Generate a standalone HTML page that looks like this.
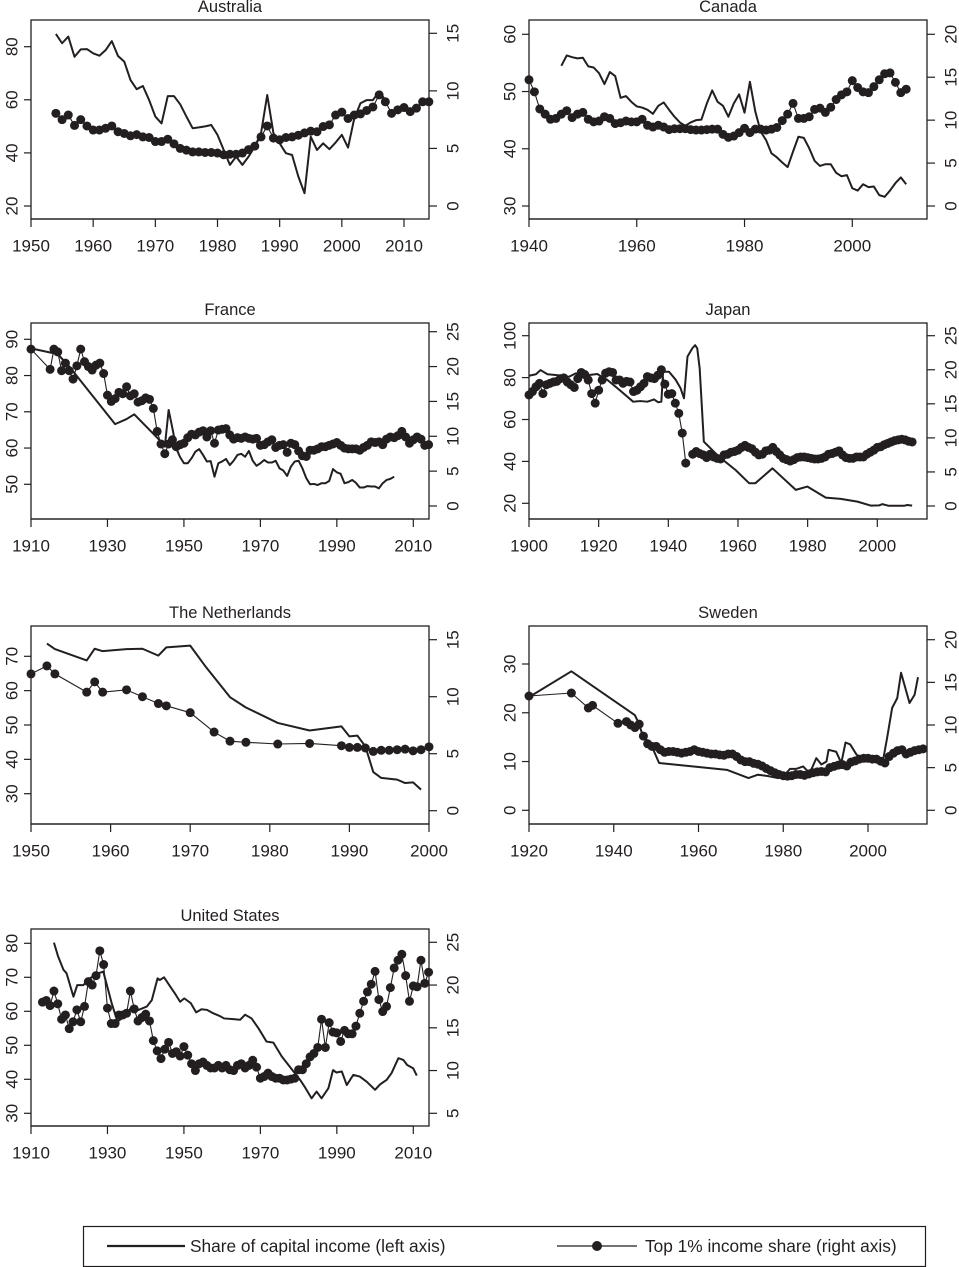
<!DOCTYPE html>
<html><head><meta charset="utf-8"><style>
html,body{margin:0;padding:0;background:#fff}
svg{display:block}
text{font-family:"Liberation Sans",sans-serif;fill:#231f20}
</style></head><body>
<svg id="fig" xmlns="http://www.w3.org/2000/svg" width="959" height="1267" viewBox="0 0 959 1267">
<g id="panels"></g>
<g>
<rect x="83.5" y="1226.5" width="842" height="40" fill="#fff" stroke="#231f20" stroke-width="1.2"/>
<line x1="107" y1="1246" x2="185" y2="1246" stroke="#231f20" stroke-width="2.2"/>
<text x="190" y="1252" font-size="17.3">Share of capital income (left axis)</text>
<line x1="557" y1="1246" x2="637" y2="1246" stroke="#231f20" stroke-width="1.2"/>
<circle cx="597" cy="1246" r="5" fill="#231f20"/>
<text x="645" y="1252" font-size="17.3">Top 1% income share (right axis)</text>
</g>
</svg>
<script>
function yrs(a,b){var r=[];for(var y=a;y<=b;y++)r.push(y);return r;}

// ---- Australia ----
const ausCapYears = yrs(1954,2007);
const ausCapValues = [84.8,81.3,83.8,76.2,79,79.1,77.5,76.6,78.7,82.1,76.5,74.4,67.5,64,65.2,59.9,53.7,51.1,61.4,61.4,58.3,53.7,49.3,49.6,50,50.5,46.8,41.1,35.5,38.6,35.5,38.6,42.4,47.4,61.8,47.4,43.6,39.9,39.2,31.1,24.8,46.1,41.1,43.6,41.4,43.9,46.8,42,53,58.7,59.9,59.9,63.1,59.9];
const ausTopYears = yrs(1954,2014);
const ausTopValues = [8.05,7.5,7.9,7.0,7.5,6.95,6.6,6.6,6.75,6.95,6.45,6.3,6.1,6.2,6.0,5.95,5.6,5.6,5.8,5.4,5.0,4.85,4.7,4.7,4.65,4.65,4.6,4.45,4.5,4.5,4.6,4.9,5.2,6.0,6.95,5.9,5.75,5.95,6.0,6.15,6.35,6.5,6.45,6.9,7.05,7.9,8.15,7.6,7.9,8.0,8.3,8.6,9.65,9.05,8.05,8.35,8.55,8.2,8.5,9.05,9.05];
const ausXTicks = [1950,1960,1970,1980,1990,2000,2010];
const ausLeftTicks = [20,40,60,80];
const ausRightTicks = [0,5,10,15];

// ---- Canada ----
const canCapYears = yrs(1946,2010);
const canCapValues = [54.5,56.3,56.0,55.8,55.9,54.4,54.2,53.2,51.3,53.4,52.7,48.9,49.2,48.2,47.4,47.2,46.8,46.1,47.5,48.1,46.8,45.6,44.6,44.0,44.6,45.0,45.1,47.9,50.2,48.2,47.5,45.6,47.9,49.5,46.3,51.7,46.5,43.0,41.5,39.2,38.5,37.6,36.8,39.5,42.1,41.9,40.1,37.9,37.0,37.3,37.3,35.8,35.2,35.4,33.1,32.7,33.8,33.3,33.4,31.9,31.6,32.7,34.0,35.0,33.8];
const canTopYears = yrs(1940,2010);
const canTopValues = [14.7,13.3,11.3,10.7,10.1,10.2,10.7,11.1,10.3,10.7,10.9,10.1,9.8,9.9,10.4,10.2,9.6,9.7,9.9,9.8,9.8,10.1,9.4,9.2,9.4,9.2,8.9,9.0,9.0,9.0,8.9,8.85,8.85,8.9,8.95,8.95,8.35,8.0,8.15,8.55,9.05,8.55,8.95,8.95,8.85,8.95,9.15,9.95,10.7,11.95,10.2,10.2,10.4,11.25,11.4,10.9,11.5,12.4,12.95,13.3,14.6,13.8,13.3,13.2,13.9,14.7,15.4,15.5,14.4,13.2,13.6];
const canXTicks = [1940,1960,1980,2000];
const canLeftTicks = [30,40,50,60];
const canRightTicks = [0,5,10,15,20];

// ---- France ----
const fraCapYears = [1910,1917,1920,1932,1935,1937,1944,1945,1946,1947,1948,1949].concat(yrs(1950,2005));
const fraCapValues = [87.5,85.9,82.5,66.6,68.0,69.3,61.8,60.4,70.5,65.4,59.9,57.5,55.8,55.8,57.2,59.0,59.7,58.1,56.3,56.4,52.1,55.8,56.3,57.0,55.3,56.5,58.1,58.4,57.6,59.2,56.5,55.1,55.8,56.7,56.0,56.0,56.5,54.4,53.8,52.3,54.9,56.3,56.5,54.4,51.7,50.0,50.1,49.8,50.3,50.3,50.9,54.2,53.3,52.9,50.3,50.6,51.2,50.4,49.1,49.1,49.5,49.4,49.4,48.9,50.3,51.2,51.5,52.1];
const fraTopYears = [1910].concat(yrs(1915,2014));
const fraTopValues = [22.5,19.6,22.5,22.1,19.4,20.5,19.4,18.2,20.1,22.5,20.7,20.0,19.5,20.2,20.5,19.0,15.9,15.0,15.4,16.3,16.1,17.1,15.8,16.1,14.9,15.1,15.5,15.3,14.0,10.7,8.9,7.5,8.9,9.5,8.5,8.8,9.0,9.8,10.3,10.2,10.6,10.8,9.9,10.8,9.0,10.9,11.0,11.1,10.2,9.6,9.8,9.7,9.9,9.7,9.6,9.7,8.7,8.8,9.2,9.5,8.4,8.7,8.8,7.7,9.0,8.8,7.9,7.2,7.1,8.0,8.0,8.2,8.5,8.5,8.7,8.9,9.1,8.7,8.3,8.2,8.2,8.2,8.0,8.4,8.7,9.2,9.1,9.2,8.8,9.6,9.9,9.8,10.1,10.7,9.9,9.0,9.5,9.9,9.6,8.7,8.8];
const fraXTicks = [1910,1930,1950,1970,1990,2010];
const fraLeftTicks = [50,60,70,80,90];
const fraRightTicks = [0,5,10,15,20,25];

// ---- Japan ----
const jpnCapYears = [1900,1902,1903.3,1905.3,1908,1911.5,1913.4,1917,1919.6,1922.5,1925.4,1929.9,1932,1934,1935.9,1937.1,1938,1938.5,1940.2,1942.1,1943.5,1944.5,1945.5,1946.9,1947.7,1948.3,1949,1950.2,1954.5,1959.3,1963.2,1965,1969.9,1976.6,1979.9,1985.2,1989.5,1994.3,1998.1,2000.5,2001.4,2003.3,2007.7,2008.6,2010];
const jpnCapValues = [80.9,81.6,83.6,81.6,81.2,80.4,82,81.2,81.7,78.9,74.9,68.5,68.8,68.5,69.6,68.2,68.5,82.8,82.8,79,75,70.1,90,94,95.5,94,84.4,49.4,42.3,35.9,29.6,29.6,36.7,26.4,28,22.7,22.1,20.8,18.9,19.0,19.6,18.8,18.8,19.2,18.9];
const jpnTopYears = yrs(1900,2010);
const jpnTopValues = [16.3,16.8,17.5,18.0,16.5,17.8,18.0,18.2,18.3,18.7,18.8,18.2,17.8,17.4,18.7,19.6,19.3,18.5,16.5,15.1,17.0,18.5,19.5,19.7,19.6,18.5,18.5,18.0,18.3,18.2,16.8,17.0,17.5,18.0,19.0,18.8,18.7,19.2,20.0,17.9,16.4,16.5,15.1,13.6,10.7,6.3,null,7.6,8.0,7.7,7.5,7.1,7.6,7.2,7.0,6.9,7.5,7.6,7.9,8.0,8.2,8.6,8.9,8.6,8.4,7.9,7.5,7.6,8.1,8.2,8.6,8.0,7.5,7.0,6.8,6.6,6.8,7.1,7.2,7.2,7.1,7.0,6.9,6.9,7.0,7.2,7.6,7.7,7.9,8.1,7.5,7.1,7.0,7.0,7.2,7.2,7.2,7.6,7.9,8.2,8.6,8.7,9.0,9.2,9.4,9.6,9.7,9.8,9.7,9.5,9.4];
const jpnXTicks = [1900,1920,1940,1960,1980,2000];
const jpnLeftTicks = [20,40,60,80,100];
const jpnRightTicks = [0,5,10,15,20,25];

// ---- Netherlands ----
const nldCapYears = [1952,1953,1957,1958,1959,1962,1964,1966,1967,1970,1972,1975,1977,1981,1985,1989,1990,1991,1992,1993,1994,1996,1997,1998,1999];
const nldCapValues = [73.7,72.1,68.8,72.2,71.5,72.1,72.2,70.2,72.6,73.1,66.8,58.1,55.1,50.6,48.4,49.6,46.7,46.9,43.8,36.3,34.6,34.1,33.1,33.3,31.2];
const nldTopYears = [1950,1952,1953,1957,1958,1959,1962,1964,1966,1967,1970,1973,1975,1977,1981,1985,1989].concat(yrs(1990,2000));
const nldTopValues = [12.0,12.7,12.0,10.4,11.3,10.4,10.6,10.0,9.4,9.2,8.6,6.9,6.1,6.0,5.85,5.9,5.7,5.55,5.55,5.5,5.2,5.3,5.3,5.35,5.4,5.25,5.35,5.6];
const nldXTicks = [1950,1960,1970,1980,1990,2000];
const nldLeftTicks = [30,40,50,60,70];
const nldRightTicks = [0,5,10,15];

// ---- Sweden ----
const sweCapYears = [1920,1930,1945,1945.7,1946.8,1949,1950.7,1966.7,1971.8,1974,1976.5,1978.8,1980.4,1981.6,1983.1,1984.7,1985.9,1986.7,1987.8,1989,1990.2,1990.7,1992.5,1993.7,1994.7,1995.8,1997.3,1999.2,2003.5,2004.5,2005.7,2006.9,2007.8,2009.8,2011,2011.8];
const sweCapValues = [23.2,28.5,19.5,18.2,15.5,13.1,9.7,8.3,6.6,7.3,7.0,6.6,7.3,8.5,8.5,9.0,7.9,8.5,10.7,9.4,10.0,12.4,12.0,9.7,13.9,13.5,11.4,10.4,10.0,14.8,21.0,23.0,28.2,22.0,23.7,27.3];
const sweTopYears = [1920,1930,1934,1935,1941].concat(yrs(1943,2013));
const sweTopValues = [13.4,13.75,12.0,12.3,10.2,10.4,10.0,9.7,10.1,8.7,7.8,7.5,7.5,7.1,6.8,6.9,6.9,6.8,6.7,6.8,6.9,7.1,6.9,6.8,6.7,6.6,6.6,6.5,6.45,6.6,6.6,6.3,5.9,5.7,5.7,5.5,5.4,5.2,4.9,4.65,4.4,4.2,4.05,4.0,4.05,4.2,4.2,4.1,4.25,4.4,4.5,4.55,4.5,5.0,5.15,5.3,5.35,5.2,5.65,5.8,6.0,6.1,6.1,6.0,6.0,5.75,5.55,6.3,6.7,7.0,7.1,6.6,6.8,7.0,7.1,7.2];
const sweXTicks = [1920,1940,1960,1980,2000];
const sweLeftTicks = [0,10,20,30];
const sweRightTicks = [0,5,10,15,20];

// ---- United States ----
const usaCapYears = [1916,1917.1,1918.5,1919.3,1921.1,1922.1,1923.7,1925.4,1927.2,1928.9,1931.1,1932.6,1935,1936.3,1938.1,1940.3,1941.6,1943.1,1943.7,1944.8,1946.4,1947.9,1949,1950.1,1951.8,1953.2,1954.6,1956.1,1957.7,1959.4,1960.5,1962.9,1964.7,1966,1967.7,1969.5,1971.6,1973.4,1975.6,1977.7,1980.4,1981.7,1983.4,1984.7,1986,1987.8,1989,1989.9,1991.3,1992.6,1994.3,1996,1997.8,2000,2001.3,2003,2004.3,2006.1,2007.4,2008.4,2010,2010.9];
const usaCapValues = [80.2,76.1,72.2,71.2,64.3,67.7,67.7,69.7,71.0,71.7,62.4,57.0,58.9,61.4,60.4,61.4,63.3,69.7,69.2,70,67.3,64.8,62.8,63.8,62.4,59.7,60.6,60.4,59.4,58.6,57.9,57.7,57.5,59.0,57.9,55.0,51.1,50.8,46.7,43.7,39.8,37.6,34.4,36.4,34.4,37.4,42.7,42.0,42.3,38.3,41.3,40.8,39.3,36.9,38.5,39.8,41.8,46.2,45.7,44.2,43.2,41.1];
const usaTopYears = yrs(1913,2014);
const usaTopValues = [18.0,18.2,17.6,19.3,17.8,16.0,16.5,14.9,15.7,17.1,15.7,17.5,20.4,20.0,21.1,24.0,22.4,17.3,15.5,15.5,16.5,16.5,16.7,19.3,17.2,15.8,16.2,16.6,15.8,13.5,12.3,11.4,12.5,13.3,12.0,12.2,11.7,12.8,11.8,10.8,10.0,10.8,11.0,10.6,10.3,10.3,10.6,10.3,10.6,10.1,10.0,10.6,10.8,10.3,10.6,11.2,10.4,9.1,9.3,9.7,9.3,9.1,9.1,8.9,8.9,9.0,9.1,10.1,10.1,10.8,11.6,12.0,12.7,16.0,12.7,15.6,14.5,14.4,13.4,14.7,14.3,14.3,15.2,16.7,18.1,19.2,20.1,21.6,18.3,16.9,17.5,19.7,22.0,22.9,23.6,21.1,18.1,19.9,19.8,22.9,20.2,21.5];
const usaXTicks = [1910,1930,1950,1970,1990,2010];
const usaLeftTicks = [30,40,50,60,70,80];
const usaRightTicks = [5,10,15,20,25];

var NS='http://www.w3.org/2000/svg';
var INK='#231f20';
function mk(tag,attrs,parent){var e=document.createElementNS(NS,tag);for(var k in attrs)e.setAttribute(k,attrs[k]);parent.appendChild(e);return e;}
function lin(a,pa,b,pb){return function(v){return pa+(v-a)*(pb-pa)/(b-a);};}

var panels=[
 {key:'australia',title:'Australia',box:[31,20,429,219],xs:lin(1950,31,2010,404),ls:lin(80,46.7,20,206),rs:lin(15,33.3,0,206),
  cy:ausCapYears,cv:ausCapValues,ty:ausTopYears,tv:ausTopValues,xt:ausXTicks,lt:ausLeftTicks,rt:ausRightTicks},
 {key:'canada',title:'Canada',box:[529,20,927,219],xs:lin(1940,529,2000,852.3),ls:lin(60,34.3,30,206),rs:lin(20,34.3,0,206),
  cy:canCapYears,cv:canCapValues,ty:canTopYears,tv:canTopValues,xt:canXTicks,lt:canLeftTicks,rt:canRightTicks},
 {key:'france',title:'France',box:[31,323,429,519],xs:lin(1910,31,2010,413.3),ls:lin(90,339.3,50,484.3),rs:lin(25,331.7,0,506),
  cy:fraCapYears,cv:fraCapValues,ty:fraTopYears,tv:fraTopValues,xt:fraXTicks,lt:fraLeftTicks,rt:fraRightTicks},
 {key:'japan',title:'Japan',box:[529,323,927,519],xs:lin(1900,529,2000,877.3),ls:lin(100,335.7,20,503.3),rs:lin(25,335.7,0,506),
  cy:jpnCapYears,cv:jpnCapValues,ty:jpnTopYears,tv:jpnTopValues,xt:jpnXTicks,lt:jpnLeftTicks,rt:jpnRightTicks},
 {key:'netherlands',title:'The Netherlands',box:[31,626,429,824],xs:lin(1950,31,2000,429),ls:lin(70,656.3,30,793.7),rs:lin(15,639.7,0,810.7),
  cy:nldCapYears,cv:nldCapValues,ty:nldTopYears,tv:nldTopValues,xt:nldXTicks,lt:nldLeftTicks,rt:nldRightTicks},
 {key:'sweden',title:'Sweden',box:[529,626,927,824],xs:lin(1920,529,2000,868),ls:lin(30,664,0,810.3),rs:lin(20,639.7,0,810.3),
  cy:sweCapYears,cv:sweCapValues,ty:sweTopYears,tv:sweTopValues,xt:sweXTicks,lt:sweLeftTicks,rt:sweRightTicks},
 {key:'united-states',title:'United States',box:[31,929,429,1126],xs:lin(1910,31,2010,413.3),ls:lin(80,943.3,30,1113.3),rs:lin(25,942.3,5,1113.3),
  cy:usaCapYears,cv:usaCapValues,ty:usaTopYears,tv:usaTopValues,xt:usaXTicks,lt:usaLeftTicks,rt:usaRightTicks}
];

var root=document.getElementById('panels');
panels.forEach(function(p){
  var g=mk('g',{},root);
  
  
  var L=p.box[0],T=p.box[1],R=p.box[2],B=p.box[3];
  var t=mk('text',{x:(L+R)/2,y:T-13,'font-size':16.5,'text-anchor':'middle','dominant-baseline':'central'},g);
  t.textContent=p.title;
  
  
  var bx=mk('rect',{x:L,y:T,width:R-L,height:B-T,fill:'none',stroke:INK,'stroke-width':1.3},g);
  
  
  var xa=mk('g',{},g);
  
  
  p.xt.forEach(function(v){
    var x=p.xs(v);
    mk('line',{x1:x,y1:B,x2:x,y2:B+8,stroke:INK,'stroke-width':1.2},xa);
    var tl=mk('text',{x:x,y:B+27,'font-size':17,'text-anchor':'middle','dominant-baseline':'central'},xa);
    tl.textContent=v;
    
    
  });
  mk('line',{x1:p.xs(p.xt[0]),y1:B,x2:p.xs(p.xt[p.xt.length-1]),y2:B,stroke:INK,'stroke-width':1.2},xa);
  var la=mk('g',{},g);
  
  
  p.lt.forEach(function(v){
    var y=p.ls(v);
    mk('line',{x1:L,y1:y,x2:L-7,y2:y,stroke:INK,'stroke-width':1.2},la);
    var tl=mk('text',{x:0,y:0,'font-size':17,'text-anchor':'middle','dominant-baseline':'central',transform:'translate('+(L-19)+','+y+') rotate(-90)'},la);
    tl.textContent=v;
    
    
  });
  var ra=mk('g',{},g);
  
  
  p.rt.forEach(function(v){
    var y=p.rs(v);
    mk('line',{x1:R,y1:y,x2:R+8,y2:y,stroke:INK,'stroke-width':1.2},ra);
    var tl=mk('text',{x:0,y:0,'font-size':17,'text-anchor':'middle','dominant-baseline':'central',transform:'translate('+(R+24)+','+y+') rotate(-90)'},ra);
    tl.textContent=v;
    
    
  });
  var d='';
  p.cy.forEach(function(yr,i){var v=p.cv[i];if(v==null)return;d+=(d?'L':'M')+p.xs(yr).toFixed(2)+','+p.ls(v).toFixed(2);});
  var cl=mk('path',{d:d,fill:'none',stroke:INK,'stroke-width':2,'stroke-linejoin':'round'},g);
  
  
  var d2='',pen=false;
  p.ty.forEach(function(yr,i){var v=p.tv[i];if(v==null){pen=false;return;}d2+=(pen?'L':'M')+p.xs(yr).toFixed(2)+','+p.rs(v).toFixed(2);pen=true;});
  var tl2=mk('path',{d:d2,fill:'none',stroke:INK,'stroke-width':1.1},g);
  
  
  var dg=mk('g',{fill:INK},g);
  
  
  p.ty.forEach(function(yr,i){var v=p.tv[i];if(v==null)return;
    var c=mk('circle',{cx:p.xs(yr).toFixed(2),cy:p.rs(v).toFixed(2),r:4.5},dg);
    
    
  });
});
</script>
</body></html>
